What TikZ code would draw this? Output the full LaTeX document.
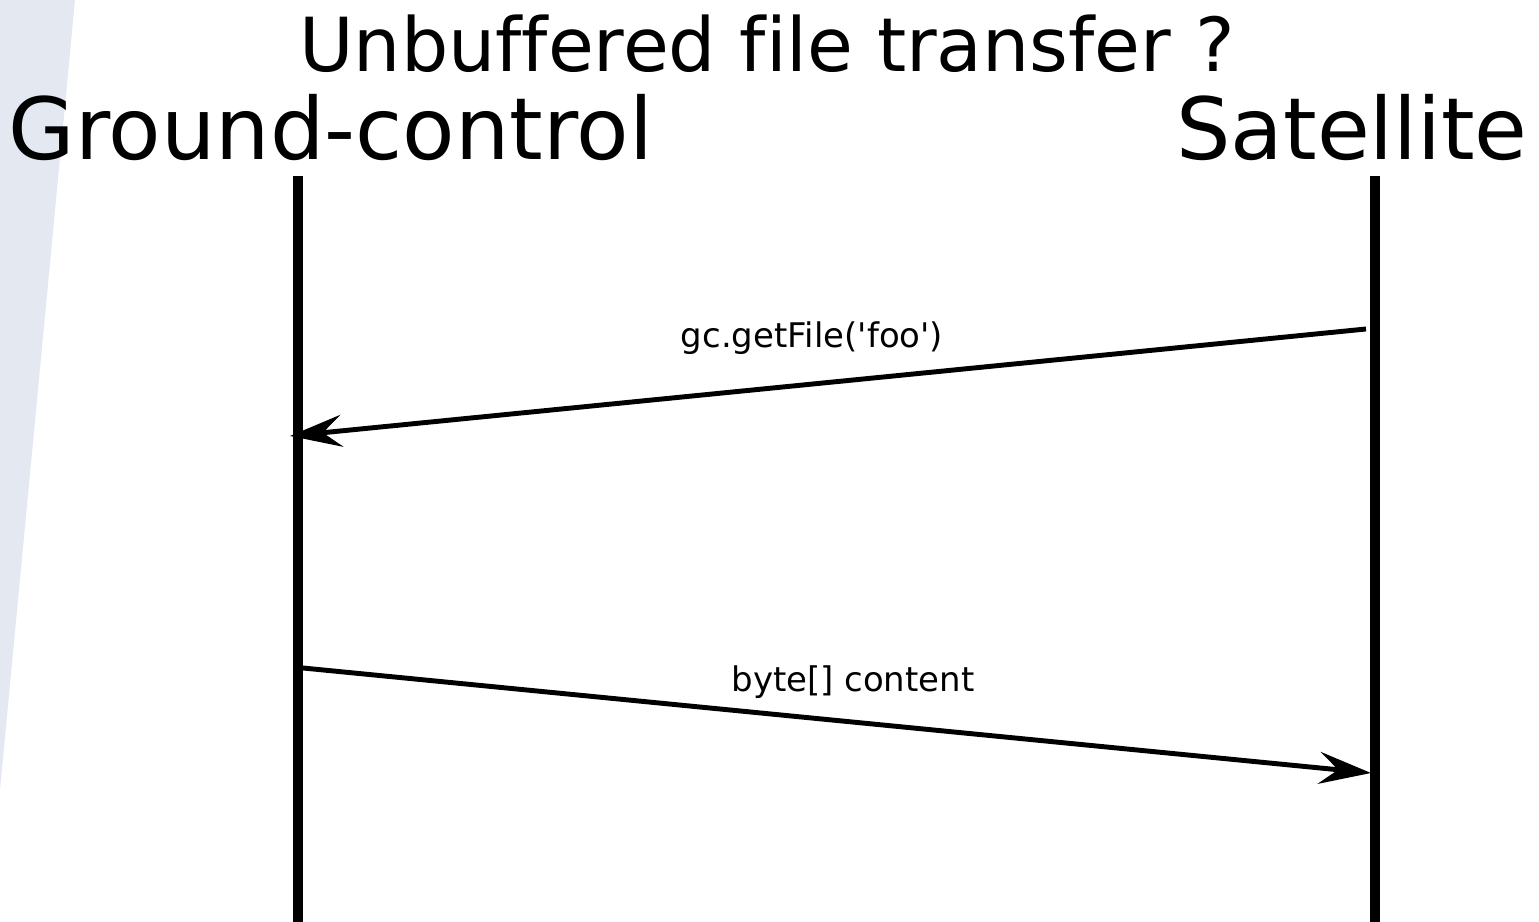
\documentclass[tikz,border=0pt]{standalone}
\usepackage{fontspec}
\setmainfont{DejaVu Sans}[Ligatures=NoCommon]
\usetikzlibrary{arrows.meta}
\definecolor{wedgegrey}{RGB}{228,233,241}

\begin{document}
\begin{tikzpicture}[x=0.01cm, y=-0.01cm,
		lifeline/.style={line width=2.6pt},
		message/.style={line width=1.4pt, -{Stealth[length=5.2mm, width=3.2mm, inset=1.9mm]}},
		msglabel/.style={anchor=base, font=\fontsize{9.65}{11}\selectfont},
		actor/.style={anchor=base, font=\fontsize{24.4}{28}\selectfont}]
				\useasboundingbox (0, 0) rectangle (1539, 922);
				\fill [wedgegrey] (0, 0) -- (75, 0) -- (0, 790) -- cycle;
				\node [anchor=base, font=\fontsize{21.2}{25}\selectfont] (title) at (767, 72) {Unbuffered file transfer ?};
				\node [actor] (gc) at (331, 160) {Ground-control};
				\node [actor] (sat) at (1352, 160) {Satellite};
				\coordinate (gctop) at (298, 176);
				\coordinate (gcbot) at (298, 922);
				\coordinate (sattop) at (1375, 176);
				\coordinate (satbot) at (1375, 922);
				\draw [lifeline] (gctop) -- (gcbot);
				\draw [lifeline] (sattop) -- (satbot);
				\coordinate (req) at (1366, 329);
				\coordinate (reqend) at (290, 436);
				\coordinate (resp) at (303, 668);
				\coordinate (respend) at (1371, 773);
				\draw [message] (req) -- (reqend);
				\draw [message] (resp) -- (respend);
				\node [msglabel] (reqlabel) at (812, 348) {gc.getFile(\textquotesingle foo\textquotesingle)};
				\node [msglabel] (resplabel) at (853, 692) {byte[] content};
				\end{tikzpicture}
\end{document}
